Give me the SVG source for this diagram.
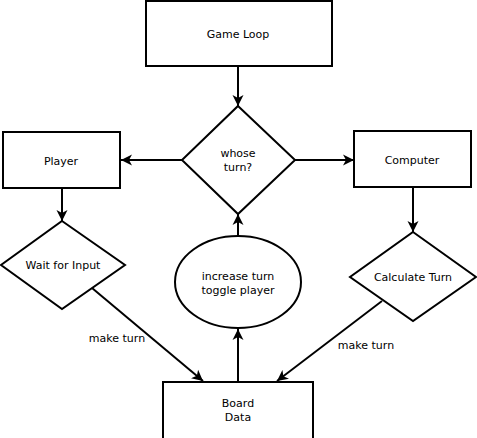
<svg xmlns="http://www.w3.org/2000/svg" width="477" height="438" viewBox="0 0 477 438">
<defs>
<marker id="arr" markerUnits="userSpaceOnUse" markerWidth="12" markerHeight="12" refX="11" refY="5.5" orient="auto" viewBox="0 0 12 11">
<path d="M0,0 L11,5.5 L0,11 L3,5.5 z" fill="#000"/>
</marker>
<style>
.s{fill:#fff;stroke:#000;stroke-width:2}
.t{font-family:"DejaVu Sans",Verdana,sans-serif;font-size:11px;fill:#000;text-anchor:middle}
.c{stroke:#000;stroke-width:2;fill:none;marker-end:url(#arr)}
</style>
</defs>
<rect width="477" height="438" fill="#fff"/>
<g id="connectors">
<line class="c" x1="238" y1="66" x2="238" y2="106"/>
<line class="c" x1="182" y1="160" x2="121" y2="160"/>
<line class="c" x1="295" y1="160" x2="354" y2="160"/>
<line class="c" x1="62" y1="188" x2="62" y2="221"/>
<line class="c" x1="413" y1="187" x2="413" y2="232"/>
<line class="c" x1="238" y1="236" x2="238" y2="214"/>
<line class="c" x1="238" y1="382" x2="238" y2="329"/>
<line class="c" x1="92" y1="288" x2="203" y2="381"/>
<line class="c" x1="382" y1="301" x2="277" y2="381"/>
<text class="t" x="117" y="342">make turn</text>
<text class="t" x="366" y="349">make turn</text>
</g>
<g id="game-loop">
<rect class="s" x="146" y="1" width="186" height="65"/>
<text class="t" x="238" y="38">Game Loop</text>
</g>
<g id="whose-turn">
<polygon class="s" points="238,106 295,160 238,214 182,160"/>
<text class="t" x="238" y="157">whose</text>
<text class="t" x="238" y="171">turn?</text>
</g>
<g id="player">
<rect class="s" x="3" y="132" width="117" height="56"/>
<text class="t" x="61" y="165">Player</text>
</g>
<g id="computer">
<rect class="s" x="354" y="131" width="117" height="56"/>
<text class="t" x="412" y="164">Computer</text>
</g>
<g id="wait-for-input">
<polygon class="s" points="62,221 125,265 62,309 1,265"/>
<text class="t" x="63" y="269">Wait for Input</text>
</g>
<g id="calculate-turn">
<polygon class="s" points="413,232 476,277 413,321 350,277"/>
<text class="t" x="413" y="281">Calculate Turn</text>
</g>
<g id="increase-turn">
<ellipse class="s" cx="238" cy="282" rx="63" ry="46"/>
<text class="t" x="238" y="280">increase turn</text>
<text class="t" x="238" y="294">toggle player</text>
</g>
<g id="board-data">
<rect class="s" x="163" y="382" width="150" height="60"/>
<text class="t" x="238" y="407">Board</text>
<text class="t" x="238" y="421">Data</text>
</g>
</svg>
